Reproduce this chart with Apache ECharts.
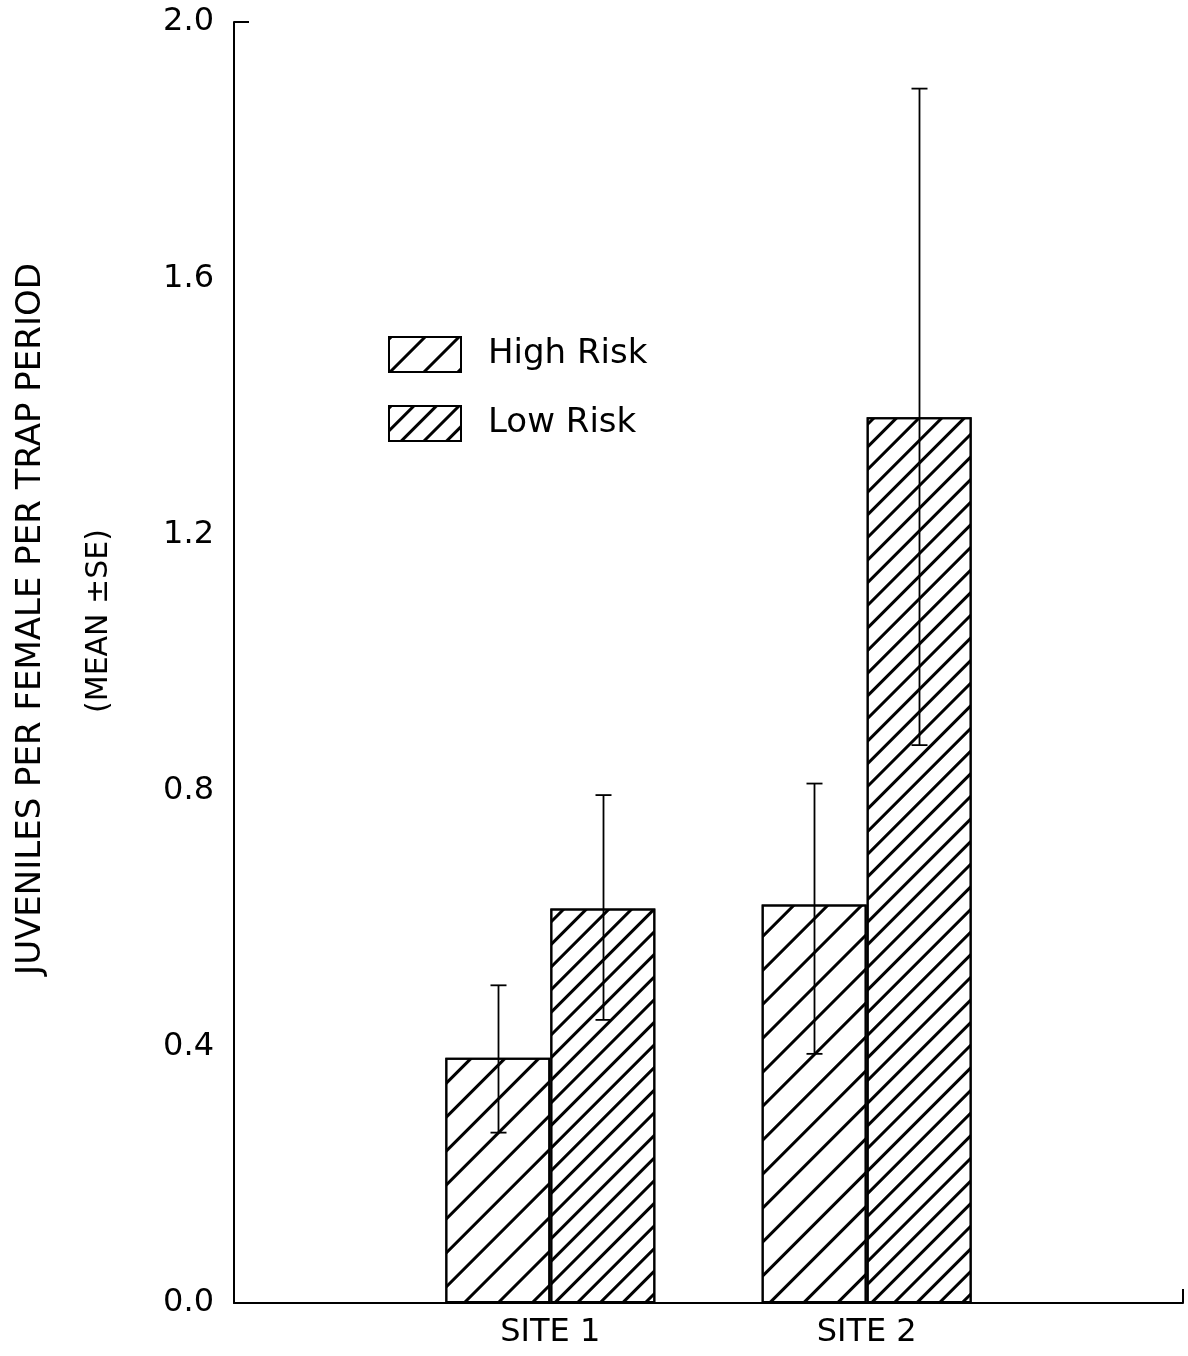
<!DOCTYPE html>
<html>
<head>
<meta charset="utf-8">
<title>Juveniles per female</title>
<script src="https://cdn.jsdelivr.net/npm/echarts@6/dist/echarts.min.js"></script>
<style>
  html, body { margin: 0; padding: 0; background: #fff; }
  #main { width: 1188px; height: 1356px; }
</style>
</head>
<body>
<div id="main"></div>
<script>
// data
var sites = ['', 'SITE 1', 'SITE 2', ''];
var highRisk = ['-', 0.383, 0.622, '-'];
var lowRisk = ['-', 0.616, 1.383, '-'];
// [category index, mean - SE, mean + SE]
var highErr = [[1, 0.266, 0.496], [2, 0.389, 0.811]];
var lowErr = [[1, 0.442, 0.793], [2, 0.871, 1.896]];
var yTickLabels = ['0.0', '0.4', '0.8', '1.2', '1.6', '2.0'];

var FONT = 'DejaVu Sans';
var BAR_W = 105;

function errorBars(offset) {
  return function (params, api) {
    var x = api.value(0);
    var lo = api.coord([x, api.value(1)]);
    var hi = api.coord([x, api.value(2)]);
    var cx = Math.round(lo[0] + offset) + 0.5;
    var cap = 8;
    var st = { stroke: '#000', lineWidth: 1.8 };
    return {
      type: 'group',
      children: [
        { type: 'line', shape: { x1: cx, y1: hi[1], x2: cx, y2: lo[1] }, style: st },
        { type: 'line', shape: { x1: cx - cap, y1: hi[1], x2: cx + cap, y2: hi[1] }, style: st },
        { type: 'line', shape: { x1: cx - cap, y1: lo[1], x2: cx + cap, y2: lo[1] }, style: st }
      ]
    };
  };
}

var chart = echarts.init(document.getElementById('main'));
var option = {
  backgroundColor: '#fff',
  animation: false,
  grid: { left: 234, right: 5, top: 22, bottom: 53 },
  legend: {
    orient: 'vertical',
    left: 383,
    top: 331,
    icon: 'rect',
    itemWidth: 72,
    itemHeight: 35,
    itemGap: 32,
    data: ['High Risk', 'Low Risk'],
    itemStyle: { borderColor: '#000', borderWidth: 2 },
    textStyle: { fontFamily: FONT, fontSize: 34, color: '#000', padding: [0, 0, 0, 22] }
  },
  xAxis: [{
    type: 'category',
    data: sites,
    boundaryGap: false,
    axisLine: { lineStyle: { color: '#000', width: 2 } },
    axisTick: { show: false },
    axisLabel: { fontFamily: FONT, fontSize: 32, color: '#000', margin: 14 },
    splitLine: { show: false }
  }, {
    // only for the short end tick at the right of the x axis
    type: 'value', position: 'bottom', min: 0, max: 1, interval: 1,
    axisLine: { show: false },
    axisTick: { show: true, inside: true, length: 14, lineStyle: { color: '#000', width: 2 } },
    axisLabel: { show: false },
    splitLine: { show: false }
  }],
  yAxis: [{
    type: 'value',
    min: 0, max: 2, interval: 0.4,
    axisLine: { show: true, lineStyle: { color: '#000', width: 2 } },
    axisTick: { show: false },
    splitLine: { show: false },
    axisLabel: {
      fontFamily: FONT, fontSize: 32, color: '#000', margin: 20,
      formatter: function (v, i) { return yTickLabels[i]; }
    }
  }, {
    // only for the short end tick at the top of the y axis
    type: 'value', position: 'left', min: 0, max: 2, interval: 2,
    axisLine: { show: false },
    axisTick: { show: true, inside: true, length: 15, lineStyle: { color: '#000', width: 2 } },
    axisLabel: { show: false },
    splitLine: { show: false }
  }],
  // rotated y-axis titles
  graphic: [{
    type: 'text', x: 14, y: 619, rotation: Math.PI / 2,
    style: { text: 'JUVENILES PER FEMALE PER TRAP PERIOD', font: '34px "DejaVu Sans"', fill: '#000', align: 'center', verticalAlign: 'top' }
  }, {
    type: 'text', x: 84, y: 621, rotation: Math.PI / 2,
    style: { text: '(MEAN \u00b1SE)', font: '30px "DejaVu Sans"', fill: '#000', align: 'center', verticalAlign: 'top' }
  }],
  series: [{
    name: 'High Risk',
    type: 'bar',
    data: highRisk,
    barWidth: BAR_W,
    barGap: '0%',
    itemStyle: {
      color: '#fff', borderColor: '#000', borderWidth: 2,
      decal: { symbol: 'rect', symbolSize: 1, color: '#000', dashArrayX: [1, 0], dashArrayY: [2.5, 20.5], rotation: -Math.PI / 4 }
    }
  }, {
    name: 'Low Risk',
    type: 'bar',
    data: lowRisk,
    barWidth: BAR_W,
    barGap: '0%',
    itemStyle: {
      color: '#fff', borderColor: '#000', borderWidth: 2,
      decal: { symbol: 'rect', symbolSize: 1, color: '#000', dashArrayX: [1, 0], dashArrayY: [2.5, 12.5], rotation: -Math.PI / 4 }
    }
  }, {
    name: 'hr-se',
    type: 'custom',
    renderItem: errorBars(-BAR_W / 2),
    data: highErr,
    encode: { x: 0, y: [1, 2] },
    z: 10
  }, {
    name: 'lr-se',
    type: 'custom',
    renderItem: errorBars(BAR_W / 2),
    data: lowErr,
    encode: { x: 0, y: [1, 2] },
    z: 10
  }]
};
chart.setOption(option);
</script>
</body>
</html>
